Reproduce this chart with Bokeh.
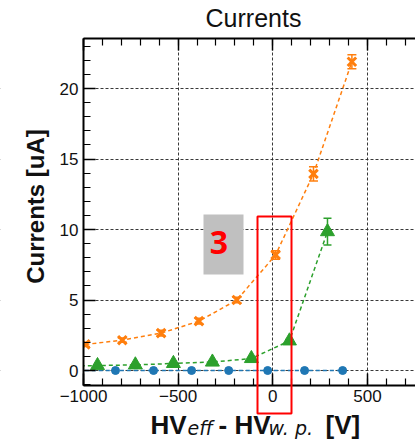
import math
from bokeh.plotting import figure
from bokeh.models import (LinearAxis, SingleIntervalTicker, Label, BoxAnnotation,
                          Whisker, ColumnDataSource, TeeHead, Range1d)
from bokeh.embed import file_html
from bokeh.resources import INLINE

# ---- data ----
orange_x = [-990, -795, -590, -390, -190, 15, 215, 418]
orange_y = [1.85, 2.15, 2.65, 3.5, 5.0, 8.2, 13.95, 21.9]
orange_err = [0.15, 0.15, 0.2, 0.2, 0.2, 0.3, 0.5, 0.5]

green_x = [-1125, -926, -726, -525, -319, -113, 88, 289]
green_y = [0.3, 0.35, 0.4, 0.5, 0.6, 0.85, 2.1, 9.85]
green_err = [0.05, 0.05, 0.05, 0.05, 0.05, 0.05, 0.1, 0.95]

blue_x = [-1030, -831, -630, -429, -233, -27, 168, 369]
blue_y = [0, 0, 0, 0, 0, 0, 0, 0]

x_ticks_major = 500
y_ticks_major = 5
x_tick_labels = {-1000: "\u22121000", -500: "\u2212500", 0: "0", 500: "500"}

ORANGE = "#ff7f0e"
GREEN = "#2ca02c"
BLUE = "#1f77b4"

# ---- layout constants (pixels of the plot area inside the canvas) ----
W, H = 415, 440
FL, FR, FT, FB = 83, 415, 38, 385
X0, X1 = -1000, 754          # visible x range of plot area
Y0, Y1 = -1.064, 23.55       # visible y range of plot area
SX = (FR - FL) / (X1 - X0)
SY = (FB - FT) / (Y1 - Y0)
BASE_FIX = 0.42              # label baseline correction (fraction of font size)


def px_x(px):
    return X0 + (px - FL) / SX


def px_y(py):
    return Y0 + (FB - py) / SY


p = figure(width=W, height=H,
           x_range=Range1d(px_x(0), px_x(W)), y_range=Range1d(px_y(H), px_y(0)),
           output_backend="svg", toolbar_location=None, min_border=0,
           x_axis_location=None, y_axis_location=None)
p.outline_line_color = None
p.background_fill_color = "white"
p.border_fill_color = "white"

xticker = SingleIntervalTicker(interval=x_ticks_major, num_minor_ticks=5)
yticker = SingleIntervalTicker(interval=y_ticks_major, num_minor_ticks=5)

bottom_axis = LinearAxis(ticker=xticker, fixed_location=Y0, bounds=(X0, X1),
                         major_label_overrides=x_tick_labels)
top_axis = LinearAxis(ticker=xticker, fixed_location=Y1, bounds=(X0, X1),
                      major_label_overrides={k: "" for k in x_tick_labels})
left_axis = LinearAxis(ticker=yticker, fixed_location=X0, bounds=(Y0, Y1))
p.add_layout(bottom_axis, "below")
p.add_layout(top_axis, "above")
p.add_layout(left_axis, "left")

for ax in [bottom_axis, left_axis, top_axis]:
    ax.major_tick_in = 12
    ax.major_tick_out = 0
    ax.minor_tick_in = 7
    ax.minor_tick_out = 0
    ax.axis_line_width = 2
    ax.axis_line_color = "black"
    ax.major_tick_line_color = "black"
    ax.minor_tick_line_color = "black"
    ax.major_tick_line_width = 1.5
    ax.minor_tick_line_width = 1.2
    ax.major_label_text_font = "Liberation Sans"
    ax.major_label_text_font_size = "17px"
    ax.major_label_text_color = "#111111"
bottom_axis.major_label_standoff = 4
left_axis.major_label_standoff = 5

p.xgrid.ticker = xticker
p.ygrid.ticker = yticker
for g in [p.xgrid, p.ygrid]:
    g.grid_line_color = "#222222"
    g.grid_line_dash = "3 2"
    g.grid_line_width = 0.9

# ---- gray box ----
p.add_layout(BoxAnnotation(left=px_x(203), right=px_x(243), top=px_y(214), bottom=px_y(274),
                           fill_color="#c0c0c0", fill_alpha=1.0, line_color=None,
                           level="underlay"))

# ---- series ----
p.line(blue_x, blue_y, line_color=BLUE, line_dash="4 3", line_width=1.5)
p.scatter(blue_x, blue_y, marker="circle", size=8, fill_color=BLUE, line_color=BLUE)

p.line(green_x, green_y, line_color=GREEN, line_dash="4 3", line_width=1.5)
gsrc = ColumnDataSource(dict(x=green_x, lo=[a - b for a, b in zip(green_y, green_err)],
                             hi=[a + b for a, b in zip(green_y, green_err)]))
p.add_layout(Whisker(source=gsrc, base="x", lower="lo", upper="hi", line_color=GREEN,
                     line_width=1.5, level="glyph",
                     upper_head=TeeHead(size=8, line_color=GREEN, line_width=1.5),
                     lower_head=TeeHead(size=8, line_color=GREEN, line_width=1.5)))
p.scatter(green_x, green_y, marker="triangle", size=14, fill_color=GREEN, line_color=GREEN)

p.line(orange_x, orange_y, line_color=ORANGE, line_dash="4 3", line_width=1.5)
osrc = ColumnDataSource(dict(x=orange_x, lo=[a - b for a, b in zip(orange_y, orange_err)],
                             hi=[a + b for a, b in zip(orange_y, orange_err)]))
p.add_layout(Whisker(source=osrc, base="x", lower="lo", upper="hi", line_color=ORANGE,
                     line_width=1.5, level="glyph",
                     upper_head=TeeHead(size=9, line_color=ORANGE, line_width=1.5),
                     lower_head=TeeHead(size=9, line_color=ORANGE, line_width=1.5)))
p.scatter(orange_x, orange_y, marker="x", size=12, line_color=ORANGE, line_width=3)

# ---- white masks outside the plot area (hide overflow of grid and lines) ----
for kw in [dict(right=X0), dict(top=Y0), dict(bottom=Y1)]:
    p.add_layout(BoxAnnotation(fill_color="white", fill_alpha=1.0, line_color=None,
                               level="glyph", **kw))


# ---- texts ----
def px_label(text, xp, yp, size, angle=0.0, color="#111111", **kw):
    fix = BASE_FIX * size
    if angle:
        xp, yp = xp - fix, yp
    else:
        yp = yp - fix
    p.add_layout(Label(x=px_x(xp), y=px_y(yp), text=text, text_baseline="alphabetic",
                       text_color=color, text_font_size=f"{size}px", angle=angle, **kw))


px_label("3", 218.5, 255, 32, color="red", text_font="Open Sans", text_font_style="bold",
         text_align="center")

# ---- red rectangle ----
p.add_layout(BoxAnnotation(left=px_x(257), right=px_x(291), top=px_y(216), bottom=px_y(413),
                           fill_alpha=0, line_color="red", line_alpha=1.0, line_width=2,
                           level="overlay"))

px_label("Currents", 253, 28, 25, text_font="Liberation Sans", text_align="center")
px_label("Currents [uA]", 45, 206, 24, angle=math.pi / 2, text_font="Liberation Sans",
         text_font_style="bold", text_align="center")

xl_parts = [
    ("HV", 150, 435, "Liberation Sans", "bold", 26),
    ("eff", 187, 435, "DejaVu Sans", "italic", 19),
    ("- HV", 218, 435, "Liberation Sans", "bold", 26),
    ("w. p.", 268, 435, "DejaVu Sans", "italic", 19),
    ("[V]", 325, 435, "Liberation Sans", "bold", 26),
]
for t, xp, yp, f, st, sz in xl_parts:
    px_label(t, xp, yp, sz, text_font=f, text_font_style=st, text_align="left")

open("out.html", "w").write(file_html(p, INLINE))
